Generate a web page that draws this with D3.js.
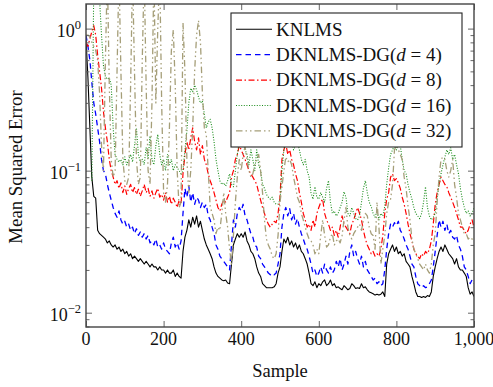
<!DOCTYPE html>
<html><head><meta charset="utf-8">
<script src="https://cdn.jsdelivr.net/npm/d3@7/dist/d3.min.js"></script>
<style>body{margin:0;background:#fff}svg{display:block}text{font-family:"Liberation Serif","DejaVu Serif",serif;fill:#111}</style>
</head><body>
<svg id="c" width="493" height="387"></svg>
<script>
// sample index grid (every 5 samples)
const samples = d3.range(0, 1001, 5);

const knlms = [
0.85,0.45,0.2,0.09,0.066,0.064,0.038,0.036,0.035,0.034,
0.033,0.031,0.032,0.030,0.029,0.030,0.028,0.029,0.027,0.028,
0.026,0.027,0.025,0.026,0.024,0.025,0.024,0.023,0.024,0.023,
0.022,0.023,0.022,0.021,0.022,0.021,0.021,0.020,0.021,0.020,
0.020,0.019,0.020,0.019,0.019,0.020,0.018,0.019,0.018,0.0175,
0.027,0.034,0.038,0.045,0.040,0.047,0.042,0.048,0.040,0.044,
0.038,0.033,0.030,0.028,0.026,0.024,0.021,0.019,0.018,0.0175,
0.017,0.0168,0.017,0.0162,0.016,0.022,0.030,0.033,0.036,0.034,
0.036,0.034,0.037,0.032,0.030,0.027,0.026,0.024,0.021,0.019,
0.018,0.016,0.0155,0.015,0.015,0.015,0.015,0.0152,0.016,0.019,
0.021,0.027,0.033,0.031,0.034,0.030,0.032,0.029,0.031,0.028,
0.030,0.027,0.026,0.024,0.022,0.019,0.016,0.0155,0.0165,0.015,
0.016,0.0155,0.0165,0.017,0.0155,0.016,0.017,0.0155,0.016,0.015,
0.0152,0.0148,0.0145,0.0155,0.015,0.0145,0.0148,0.016,0.0155,0.0148,
0.015,0.0148,0.016,0.015,0.0152,0.0145,0.014,0.0138,0.0136,0.0133,
0.0135,0.0133,0.0135,0.014,0.013,0.022,0.026,0.028,0.030,0.027,
0.029,0.026,0.027,0.025,0.026,0.023,0.022,0.021,0.018,0.016,
0.014,0.013,0.013,0.0128,0.013,0.0128,0.0132,0.013,0.014,0.018,
0.021,0.024,0.027,0.029,0.027,0.030,0.028,0.026,0.025,0.024,
0.022,0.024,0.021,0.020,0.020,0.019,0.018,0.015,0.0135,0.014,
0.013];

const dg4 = [
0.9,0.75,0.6,0.42,0.3,0.25,0.2,0.16,0.12,0.1,
0.095,0.08,0.07,0.062,0.055,0.05,0.047,0.052,0.045,0.042,
0.044,0.040,0.042,0.038,0.040,0.036,0.039,0.035,0.037,0.034,
0.036,0.033,0.035,0.031,0.032,0.030,0.033,0.029,0.030,0.028,
0.031,0.028,0.027,0.026,0.031,0.034,0.029,0.031,0.028,0.032,
0.05,0.075,0.065,0.078,0.06,0.07,0.058,0.065,0.062,0.055,
0.06,0.055,0.058,0.048,0.045,0.04,0.036,0.03,0.028,0.025,
0.024,0.023,0.022,0.021,0.02,0.03,0.045,0.04,0.05,0.055,
0.052,0.058,0.048,0.045,0.04,0.036,0.034,0.03,0.029,0.025,
0.024,0.022,0.021,0.02,0.019,0.0185,0.019,0.0185,0.019,0.022,
0.026,0.04,0.05,0.055,0.048,0.054,0.045,0.05,0.042,0.046,
0.04,0.036,0.033,0.03,0.028,0.025,0.022,0.019,0.02,0.018,
0.019,0.021,0.019,0.022,0.02,0.019,0.021,0.019,0.02,0.023,
0.021,0.024,0.02,0.022,0.025,0.022,0.027,0.03,0.025,0.027,
0.024,0.022,0.025,0.021,0.023,0.02,0.019,0.018,0.017,0.0175,
0.016,0.0165,0.0155,0.016,0.02,0.028,0.036,0.042,0.04,0.043,
0.041,0.044,0.038,0.036,0.033,0.03,0.028,0.025,0.022,0.021,
0.018,0.016,0.0155,0.015,0.0155,0.015,0.0152,0.016,0.017,0.021,
0.027,0.035,0.045,0.04,0.044,0.038,0.042,0.036,0.038,0.034,
0.033,0.035,0.03,0.028,0.025,0.021,0.02,0.018,0.016,0.017,
0.016];

const dg8 = [
0.8,0.75,0.85,0.95,1.05,0.9,0.65,0.5,0.38,0.26,
0.2,0.16,0.12,0.1,0.09,0.08,0.085,0.075,0.082,0.07,
0.078,0.068,0.075,0.08,0.07,0.076,0.068,0.074,0.066,0.072,
0.08,0.07,0.075,0.066,0.072,0.064,0.07,0.075,0.065,0.068,
0.062,0.07,0.06,0.066,0.058,0.064,0.06,0.055,0.062,0.058,
0.095,0.13,0.16,0.14,0.17,0.2,0.16,0.14,0.17,0.13,
0.15,0.12,0.11,0.095,0.085,0.078,0.07,0.062,0.055,0.052,
0.058,0.062,0.06,0.065,0.07,0.09,0.1,0.12,0.13,0.15,
0.14,0.13,0.12,0.11,0.1,0.095,0.09,0.085,0.08,0.07,
0.062,0.055,0.05,0.045,0.042,0.04,0.042,0.044,0.043,0.05,
0.065,0.12,0.14,0.155,0.13,0.14,0.12,0.11,0.095,0.085,
0.07,0.06,0.05,0.045,0.04,0.042,0.038,0.045,0.04,0.05,
0.055,0.06,0.063,0.05,0.045,0.042,0.038,0.04,0.035,0.038,
0.034,0.04,0.048,0.042,0.04,0.038,0.036,0.042,0.045,0.05,
0.055,0.05,0.045,0.038,0.033,0.03,0.028,0.026,0.027,0.025,
0.026,0.025,0.028,0.035,0.05,0.063,0.07,0.09,0.095,0.085,
0.088,0.082,0.075,0.065,0.058,0.05,0.042,0.036,0.032,0.028,
0.026,0.025,0.024,0.026,0.025,0.027,0.026,0.028,0.032,0.042,
0.058,0.07,0.08,0.09,0.085,0.08,0.077,0.07,0.065,0.06,
0.055,0.05,0.045,0.04,0.04,0.038,0.036,0.038,0.042,0.045,
0.04];

const dg16 = [
null,null,null,0.085,2.0,2.0,2.0,1.6,0.9,0.55,
0.46,0.44,0.45,0.4,0.2,0.13,0.12,0.115,0.12,0.11,
0.125,0.11,0.12,0.13,0.115,0.15,0.2,0.13,0.115,0.12,
0.11,0.145,0.12,0.175,0.12,0.11,0.15,0.18,0.13,0.11,
0.12,0.1,0.13,0.11,0.12,0.1,0.11,0.105,0.1,0.095,
0.1,0.14,0.19,0.3,0.38,0.36,0.4,0.37,0.33,0.3,
0.31,0.25,0.2,0.22,0.23,0.2,0.16,0.12,0.1,0.085,
0.08,0.082,0.078,0.085,0.095,0.08,0.077,0.1,0.13,0.16,
0.15,0.16,0.14,0.13,0.11,0.14,0.12,0.1,0.14,0.11,
0.1,0.08,0.075,0.068,0.065,0.063,0.065,0.06,0.058,0.058,
0.062,0.1,0.14,0.165,0.15,0.165,0.16,0.14,0.15,0.16,
0.14,0.12,0.11,0.12,0.1,0.09,0.07,0.063,0.077,0.065,
0.063,0.07,0.065,0.06,0.075,0.085,0.06,0.05,0.052,0.048,
0.05,0.055,0.06,0.071,0.065,0.05,0.048,0.055,0.05,0.046,
0.045,0.048,0.06,0.075,0.085,0.07,0.06,0.056,0.05,0.047,
0.052,0.045,0.05,0.048,0.056,0.08,0.105,0.13,0.14,0.15,
0.14,0.155,0.15,0.12,0.1,0.095,0.08,0.07,0.063,0.055,
0.05,0.048,0.046,0.05,0.06,0.077,0.055,0.048,0.045,0.047,
0.05,0.065,0.08,0.095,0.11,0.125,0.14,0.13,0.145,0.12,
0.13,0.11,0.095,0.075,0.063,0.055,0.05,0.052,0.048,0.05,
0.055];

const dg32 = [
0.9,0.9,0.88,0.8,0.75,0.7,0.6,0.35,0.15,0.1,
0.6,2.5,0.4,0.12,0.09,0.1,0.5,2.5,0.5,0.12,
0.085,0.08,0.09,0.4,2.5,0.5,0.12,0.08,0.09,0.6,
2.5,0.4,0.1,0.08,0.3,2.5,0.3,1.0,2.5,0.3,
0.07,0.06,0.08,0.2,0.7,0.98,0.4,0.1,0.055,0.06,
1.1,0.5,0.12,0.07,0.1,0.2,0.5,0.9,1.14,0.8,
0.35,0.2,0.18,0.1,0.056,0.05,0.045,0.036,0.04,0.038,
0.05,0.07,0.05,0.04,0.028,0.022,0.035,0.06,0.09,0.12,
0.1,0.13,0.147,0.12,0.1,0.09,0.095,0.11,0.12,0.13,
0.1,0.07,0.045,0.033,0.03,0.028,0.025,0.024,0.026,0.035,
0.06,0.077,0.1,0.125,0.115,0.12,0.11,0.09,0.077,0.065,
0.06,0.05,0.045,0.04,0.036,0.033,0.032,0.03,0.026,0.028,
0.026,0.035,0.045,0.035,0.029,0.03,0.034,0.036,0.03,0.032,
0.033,0.031,0.035,0.045,0.055,0.04,0.035,0.033,0.036,0.038,
0.04,0.042,0.038,0.045,0.05,0.048,0.04,0.036,0.035,0.028,
0.06,0.04,0.022,0.028,0.035,0.05,0.06,0.063,0.08,0.14,
0.15,0.14,0.13,0.12,0.09,0.075,0.056,0.045,0.033,0.028,
0.026,0.024,0.022,0.021,0.02,0.022,0.02,0.019,0.022,0.03,
0.036,0.06,0.09,0.12,0.125,0.12,0.1,0.09,0.1,0.12,
0.08,0.065,0.05,0.045,0.04,0.036,0.036,0.033,0.034,0.033,
0.032];

const seriesNames = ["KNLMS","DKNLMS-DG(d = 4)","DKNLMS-DG(d = 8)","DKNLMS-DG(d = 16)","DKNLMS-DG(d = 32)"];
const legendD = [null,"4","8","16","32"];
const xTicks = [0,200,400,600,800,1000];
const xTickLabels = ["0","200","400","600","800","1,000"];
const yMajor = [0.01,0.1,1];
const yMajorExp = ["\u22122","\u22121","0"];

const series = [
  {name:seriesNames[0], d:legendD[0], values:knlms, color:"#000000", dash:null,            width:1.1},
  {name:seriesNames[1], d:legendD[1], values:dg4,   color:"#0000ff", dash:"5.5,4",         width:1.3},
  {name:seriesNames[2], d:legendD[2], values:dg8,   color:"#ff0000", dash:"6,2.5,1.5,2.5", width:1.2},
  {name:seriesNames[3], d:legendD[3], values:dg16,  color:"#1a8c1a", dash:"1,1.6",         width:1.1},
  {name:seriesNames[4], d:legendD[4], values:dg32,  color:"#a59e78", dash:"6.5,3,1.5,3,1.5,3", width:1.3}
];

const L=86,R=474,T=4,B=327;
const svg=d3.select("#c");
const x=d3.scaleLinear().domain([0,1000]).range([L,R]);
const y=d3.scaleLog().domain([0.00793,1.49]).range([B,T]);

svg.append("defs").append("clipPath").attr("id","clip")
  .append("rect").attr("x",L).attr("y",T).attr("width",R-L).attr("height",B-T);

const line=d3.line().defined(d=>d[1]!==null)
  .x(d=>x(d[0])).y(d=>y(d[1]));

const plot=svg.append("g").attr("clip-path","url(#clip)");
series.forEach(s=>{
  plot.append("path")
    .datum(samples.map((v,i)=>[v,s.values[i]]))
    .attr("d",line).attr("fill","none")
    .attr("stroke",s.color).attr("stroke-width",s.width)
    .attr("stroke-dasharray",s.dash)
    .attr("stroke-linejoin","round");
});

const yMinor=[];
[0.001,0.01,0.1,1].forEach(dec=>{for(let k=2;k<=9;k++){const v=dec*k; if(v>=0.00793&&v<=1.49) yMinor.push(v);}});

const tickStroke="#666";
function styleAxis(g){g.select(".domain").remove();g.selectAll("line").attr("stroke",tickStroke).attr("stroke-width",1);g.selectAll("text").remove();}

svg.append("g").attr("transform",`translate(0,${B})`).call(d3.axisBottom(x).tickValues(xTicks).tickSize(-6)).call(styleAxis);
svg.append("g").attr("transform",`translate(0,${T})`).call(d3.axisTop(x).tickValues(xTicks).tickSize(-6)).call(styleAxis);
svg.append("g").attr("transform",`translate(${L},0)`).call(d3.axisLeft(y).tickValues(yMajor).tickSize(-6)).call(styleAxis);
svg.append("g").attr("transform",`translate(${R},0)`).call(d3.axisRight(y).tickValues(yMajor).tickSize(-6)).call(styleAxis);
svg.append("g").attr("transform",`translate(${L},0)`).call(d3.axisLeft(y).tickValues(yMinor).tickSize(-3.5)).call(styleAxis);
svg.append("g").attr("transform",`translate(${R},0)`).call(d3.axisRight(y).tickValues(yMinor).tickSize(-3.5)).call(styleAxis);

svg.append("rect").attr("x",L).attr("y",T).attr("width",R-L).attr("height",B-T)
  .attr("fill","none").attr("stroke","#444").attr("stroke-width",1.4);

svg.append("g").selectAll("text").data(xTicks).join("text")
  .attr("x",d=>x(d)).attr("y",B+18).attr("text-anchor","middle")
  .attr("font-size",18).text((d,i)=>xTickLabels[i]);

const yl=svg.append("g").selectAll("text").data(yMajor).join("text")
  .attr("x",81).attr("y",d=>y(d)+8).attr("text-anchor","end").attr("font-size",18);
yl.append("tspan").text("10");
yl.append("tspan").attr("font-size",12.5).attr("dy",-7.5).text((d,i)=>yMajorExp[i]);

svg.append("text").attr("x",280).attr("y",377).attr("text-anchor","middle").attr("font-size",18.5).text("Sample");
svg.append("text").attr("transform","translate(21.5,167) rotate(-90)").attr("text-anchor","middle").attr("font-size",18.8).text("Mean Squared Error");

const lg=svg.append("g");
lg.append("rect").attr("x",231).attr("y",13).attr("width",231).attr("height",134)
  .attr("fill","#fff").attr("stroke","#222").attr("stroke-width",1.1);
series.forEach((s,i)=>{
  const cy=29.3+i*25.4;
  lg.append("line").attr("x1",236).attr("x2",272).attr("y1",cy).attr("y2",cy)
    .attr("stroke",s.color).attr("stroke-width",s.width).attr("stroke-dasharray",s.dash);
  const t=lg.append("text").attr("x",276).attr("y",cy+6.2).attr("font-size",19);
  if(s.d===null){t.text(s.name);}
  else{
    t.append("tspan").text("DKNLMS-DG(");
    t.append("tspan").attr("font-style","italic").text("d");
    t.append("tspan").text(" = "+s.d+")");
  }
});
</script>
</body></html>
